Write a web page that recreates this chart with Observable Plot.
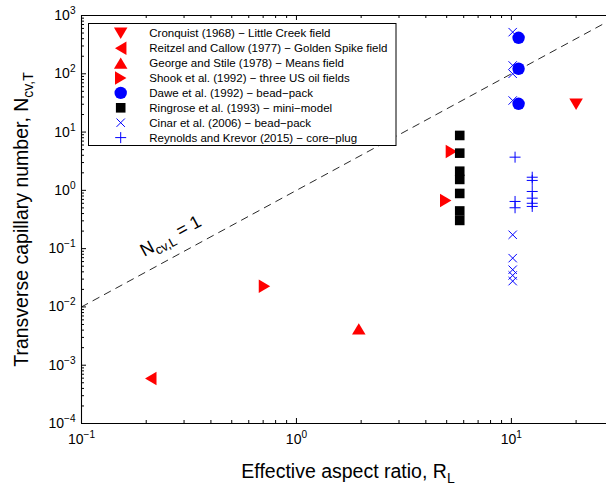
<!DOCTYPE html>
<html><head><meta charset="utf-8">
<script src="https://cdn.jsdelivr.net/npm/d3@7"></script>
<script src="https://cdn.jsdelivr.net/npm/@observablehq/plot@0.6"></script>
<style>body{margin:0;background:#fff} svg{display:block}</style>
</head><body><div id="chart"></div>
<script>
// ---------- data ----------
const cronquistR = [20];
const cronquistN = [30];
const reitzelR = [0.21];
const reitzelN = [5.9e-4];
const georgeR = [1.95];
const georgeN = [4.2e-3];
const shookR = [0.71, 4.95, 5.26];
const shookN = [0.0227, 0.67, 4.65];
const daweR = [10.8, 10.8, 10.8];
const daweN = [414, 122, 30.6];
const ringroseR = [5.75, 5.75, 5.75, 5.75, 5.75, 5.75, 5.75];
const ringroseN = [8.75, 4.35, 2.13, 1.54, 0.885, 0.443, 0.305];
const cinarR = [10.14, 10.14, 10.14, 10.14, 10.14, 10.14, 10.14, 10.14, 10.14];
const cinarN = [518, 139, 100, 34.8, 0.173, 0.0687, 0.0435, 0.0347, 0.0277];
const reynoldsR = [10.4, 10.4, 10.4, 12.5, 12.5, 12.5, 12.5, 12.5, 12.5];
const reynoldsN = [3.71, 0.645, 0.503, 1.68, 1.48, 0.957, 0.735, 0.60, 0.53];
const lineR = [0.1, 30];      // N_cv,L = 1 reference line
const lineN = [0.01, 900];
const legendLabels = [
  "Cronquist (1968) \u2212 Little Creek field",
  "Reitzel and Callow (1977) \u2212 Golden Spike field",
  "George and Stile (1978) \u2212 Means field",
  "Shook et al. (1992) \u2212 three US oil fields",
  "Dawe et al. (1992) \u2212 bead\u2212pack",
  "Ringrose et al. (1993) \u2212 mini\u2212model",
  "Cinar et al. (2006) \u2212 bead\u2212pack",
  "Reynolds and Krevor (2015) \u2212 core\u2212plug"
];
const xTicks = [0.1, 1, 10];
const xTickLabels = ["10^{\u22121}", "10^{0}", "10^{1}"];
const yTicks = [1e-4, 1e-3, 1e-2, 1e-1, 1, 10, 100, 1000];
const yTickLabels = ["10^{\u22124}", "10^{\u22123}", "10^{\u22122}", "10^{\u22121}", "10^{0}", "10^{1}", "10^{2}", "10^{3}"];
const xLabel = "Effective aspect ratio, R_{L}";
const yLabel = "Transverse capillary number, N_{cv,T}";
const lineLabel = "N_{cv,L} = 1";

// ---------- layout ----------
const FONT = "'Liberation Sans', Arial, Helvetica, sans-serif";
const W = 606, H = 485, ML = 81, MT = 15, MB = 62, MR = 0;
const plotW = W - ML - MR, plotH = H - MT - MB;
const RED = "#ff0000", BLUE = "#0000ff";

const zip = (a, b) => a.map((v, i) => ({r: v, n: b[i]}));

// ---------- symbols ----------
function tri(dir) {
  return {draw(ctx, size) {
    const r = Math.sqrt(size / Math.PI), a = r * 1.04, b = r * 0.88;
    if (dir === "down") { ctx.moveTo(-a, -b); ctx.lineTo(a, -b); ctx.lineTo(0, b); }
    else if (dir === "up") { ctx.moveTo(-a, b); ctx.lineTo(a, b); ctx.lineTo(0, -b); }
    else if (dir === "left") { ctx.moveTo(b, -a); ctx.lineTo(b, a); ctx.lineTo(-b, 0); }
    else { ctx.moveTo(-b, -a); ctx.lineTo(-b, a); ctx.lineTo(b, 0); }
    ctx.closePath();
  }};
}
const sqSym = {draw(ctx, size) { const r = Math.sqrt(size / Math.PI); ctx.rect(-r, -r, 2 * r, 2 * r); }};
const circSym = {draw(ctx, size) { const r = Math.sqrt(size / Math.PI); ctx.moveTo(r, 0); ctx.arc(0, 0, r, 0, 2 * Math.PI); }};
const crossSym = {draw(ctx, size) { const r = Math.sqrt(size / Math.PI); ctx.moveTo(-r, -r); ctx.lineTo(r, r); ctx.moveTo(r, -r); ctx.lineTo(-r, r); }};
const plusSym = {draw(ctx, size) { const r = Math.sqrt(size / Math.PI); ctx.moveTo(-r, 0); ctx.lineTo(r, 0); ctx.moveTo(0, -r); ctx.lineTo(0, r); }};

const series = [
  {data: zip(cronquistR, cronquistN), sym: tri("down"), r: 6.5, fill: RED},
  {data: zip(reitzelR, reitzelN), sym: tri("left"), r: 6.5, fill: RED},
  {data: zip(georgeR, georgeN), sym: tri("up"), r: 6.5, fill: RED},
  {data: zip(shookR, shookN), sym: tri("right"), r: 6.5, fill: RED},
  {data: zip(daweR, daweN), sym: circSym, r: 6.2, fill: BLUE},
  {data: zip(ringroseR, ringroseN), sym: sqSym, r: 4.8, fill: "#000"},
  {data: zip(cinarR, cinarN), sym: crossSym, r: 4.2, stroke: BLUE},
  {data: zip(reynoldsR, reynoldsN), sym: plusSym, r: 5.5, stroke: BLUE}
];

// minor ticks
const xMinor = [], yMinor = [];
for (let e = -1; e <= 1; e++) for (let k = 2; k <= 9; k++) { const v = k * Math.pow(10, e); if (v <= 27.7) xMinor.push(v); }
for (let e = -4; e <= 2; e++) for (let k = 2; k <= 9; k++) yMinor.push(k * Math.pow(10, e));

const dotMarks = series.map(s => Plot.dot(s.data, {
  x: "r", y: "n", symbol: s.sym, r: s.r,
  fill: s.fill || "none", stroke: s.stroke || "none", strokeWidth: s.stroke ? 1 : 0
}));

const chart = Plot.plot({
  width: W, height: H,
  marginLeft: ML, marginRight: MR, marginTop: MT, marginBottom: MB,
  style: {fontFamily: FONT, fontSize: "14px", background: "white", color: "black", overflow: "hidden"},
  x: {type: "log", domain: [0.1, 27.7], axis: null},
  y: {type: "log", domain: [1e-4, 1e3], axis: null},
  marks: [
    Plot.line(zip(lineR, lineN), {x: "r", y: "n", stroke: "#111", strokeWidth: 0.9, strokeDasharray: "7,6", clip: true}),
    Plot.text([lineLabel], {x: () => 0.26, y: () => 0.165, text: d => d, rotate: -28.5, fontSize: 18, textAnchor: "middle", lineAnchor: "middle"}),
    // axis lines
    Plot.ruleX([0.1], {stroke: "#000", strokeWidth: 1.1}),
    Plot.ruleY([1e-4, 1e3], {stroke: "#000", strokeWidth: 1.1}),
    // inward ticks
    Plot.tickX(xTicks, {x: d => d, insetTop: plotH - 5, stroke: "#000"}),
    Plot.tickX(xTicks, {x: d => d, insetBottom: plotH - 5, stroke: "#000"}),
    Plot.tickX(xMinor, {x: d => d, insetTop: plotH - 3, stroke: "#000"}),
    Plot.tickX(xMinor, {x: d => d, insetBottom: plotH - 3, stroke: "#000"}),
    Plot.tickY(yTicks, {y: d => d, insetRight: plotW - 5, stroke: "#000"}),
    Plot.tickY(yMinor, {y: d => d, insetRight: plotW - 3, stroke: "#000"}),
    // tick labels
    Plot.text(xTicks, {x: d => d, text: (d, i) => xTickLabels[i], frameAnchor: "bottom", dy: 16, textAnchor: "middle", lineAnchor: "middle", fontSize: 14}),
    Plot.text(yTicks, {y: d => d, text: (d, i) => yTickLabels[i], frameAnchor: "left", dx: -6, textAnchor: "end", lineAnchor: "middle", fontSize: 14}),
    // axis titles
    Plot.text([xLabel], {text: d => d, frameAnchor: "bottom", dy: 48, dx: 4, textAnchor: "middle", lineAnchor: "middle", fontSize: 19.5}),
    Plot.text([yLabel], {text: d => d, frameAnchor: "left", dx: -60, rotate: -90, textAnchor: "middle", lineAnchor: "middle", fontSize: 19.5}),
    ...dotMarks
  ]
});

document.getElementById("chart").appendChild(chart);

// ---------- rich text (super/subscripts) ----------
const svg = d3.select(chart);
svg.selectAll("text").each(function () {
  const t = this.textContent;
  if (!/[\^_]\{/.test(t)) return;
  const fs = parseFloat(d3.select(this.closest("[font-size]") || this).attr("font-size")) || 14;
  const el = d3.select(this);
  el.text(null);
  const re = /([\^_])\{([^}]*)\}|([^\^_]+)/g;
  let m;
  while ((m = re.exec(t))) {
    if (m[3]) el.append("tspan").text(m[3]);
    else {
      el.append("tspan")
        .attr("font-size", (fs * 0.72).toFixed(1))
        .attr("baseline-shift", m[1] === "^" ? (fs * 0.42).toFixed(1) : (-fs * 0.26).toFixed(1))
        .text(m[2]);
    }
  }
});

// ---------- legend ----------
const lg = svg.append("g").attr("font-family", FONT).attr("font-size", 11.5).attr("text-anchor", "start");
lg.append("rect").attr("x", 88.5).attr("y", 23.5).attr("width", 307.5).attr("height", 122)
  .attr("fill", "white").attr("stroke", "#000").attr("stroke-width", 1);
series.forEach((s, i) => {
  const cy = 33.3 + i * 14.9;
  lg.append("path")
    .attr("transform", `translate(120.7,${cy})`)
    .attr("d", d3.symbol().type(s.sym).size(Math.PI * s.r * s.r)())
    .attr("fill", s.fill || "none").attr("stroke", s.stroke || "none").attr("stroke-width", 1);
  lg.append("text").attr("x", 149.3).attr("y", cy).attr("dy", "0.35em").attr("text-anchor", "start").attr("fill", "#000").text(legendLabels[i]);
});
</script>
</body></html>
